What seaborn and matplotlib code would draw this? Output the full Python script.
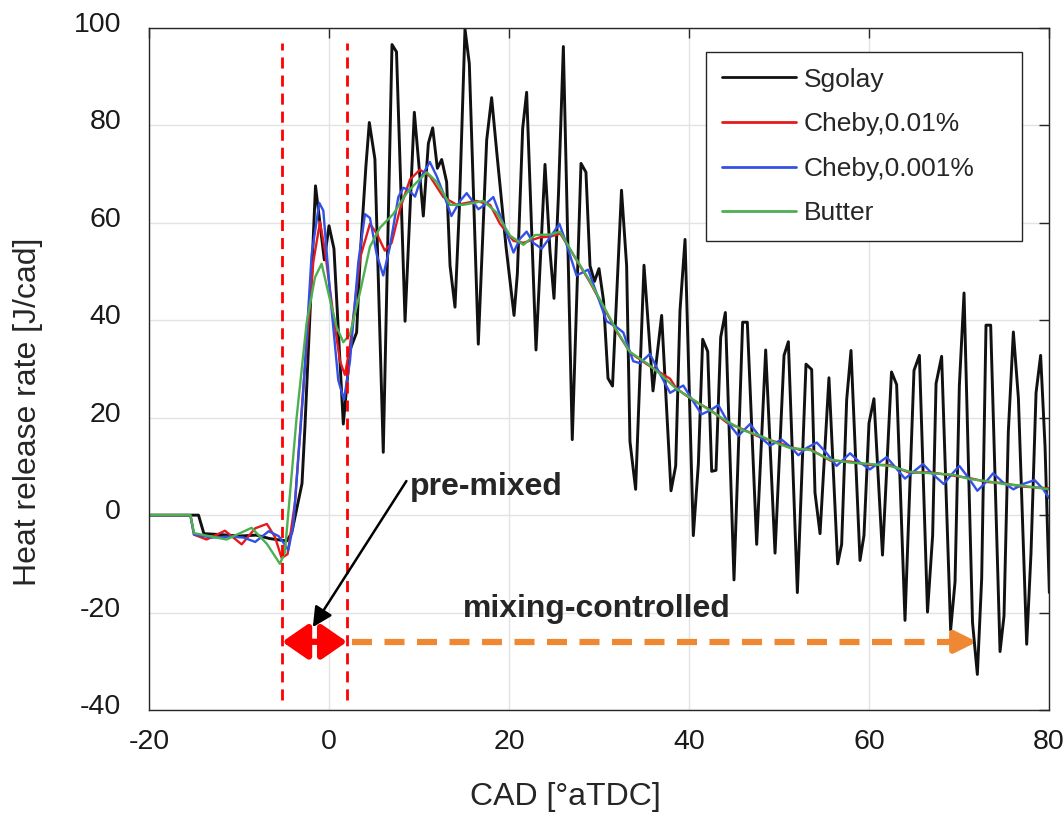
import matplotlib
matplotlib.use("Agg")
import matplotlib.pyplot as plt
import matplotlib.transforms as mtransforms
import seaborn as sns
import pandas as pd

# ---------------- data ----------------
sgolay_x = [-20, -14.5, -13.9, -12, -10, -8.1, -6.6, -4.7, -4.15, -3.0, -2.67, -2.1, -1.5, -1.0, -0.52,
            0.0, 0.55, 1.03, 1.59, 2.33, 3.07, 3.5, 4.1, 4.48, 5.1, 6.03, 7.0, 7.5, 8.45, 9.48, 10.48,
            11.04, 11.52, 12.04, 12.52, 13.07, 13.45, 14.0, 14.48, 15.11, 15.59, 16.59, 17.52, 18.07,
            18.63, 19.67, 20.56, 20.93, 21.52, 21.96, 23.0, 24.0, 24.55, 25.0, 25.5, 26.04, 27.03, 28.0,
            28.55, 29.0, 29.5, 30.0, 30.5, 31.0, 31.5, 32.5, 33.07, 33.44, 34.07, 35.0, 36.0, 36.96,
            38.0, 38.52, 39.0, 39.56, 40.48, 41.04, 41.52, 42.08, 42.52, 43.0, 43.52, 44.04, 45.0,
            45.96, 46.48, 47.52, 48.52, 49.56, 50.56, 51.04, 52.04, 53.0, 53.63, 54.0, 54.56, 55.55,
            56.52, 56.96, 57.52, 58.0, 59.0, 59.44, 60.0, 60.55, 61.5, 62.5, 63.07, 64.0, 65.0, 65.6,
            66.5, 67.07, 67.45, 68.07, 69.07, 69.56, 70.04, 70.56, 71.5, 72.04, 72.52, 73.0, 73.52,
            74.56, 75.0, 75.48, 76.04, 76.6, 77.52, 78.0, 78.56, 79.07, 79.56, 80.04]
sgolay_y = [0, 0, -3.8, -4.0, -4.3, -4.1, -4.8, -5.3, -3.7, 6.5, 18.3, 41.8, 67.6, 59.8, 52.4,
            59.4, 54.7, 37.9, 18.7, 33.9, 37.5, 54.3, 71.6, 80.6, 73.1, 12.9, 96.6, 95.1, 39.8, 82.7, 61.4,
            76.3, 79.5, 71.2, 73.0, 68.4, 51.2, 42.7, 62.9, 99.8, 92.7, 35.1, 77.0, 85.7,
            74.7, 55.1, 41.0, 49.6, 79.4, 86.8, 33.9, 72.0, 54.3, 44.5, 66.0, 96.2, 15.5, 72.2,
            70.4, 51.2, 48.0, 50.6, 44.1, 28.1, 26.5, 66.7, 51.2, 15.1, 5.3, 51.3, 25.5, 41.0,
            5.0, 10.1, 42.0, 56.6, -4.2, 10.5, 36.1, 33.6, 9.0, 9.2, 36.5, 41.6, -13.3,
            39.6, 39.6, -6.0, 33.9, -7.8, 32.8, 35.6, -15.9, 31.0, 29.9, 4.6, -3.8, 28.2,
            -10.0, -6.0, 23.7, 33.8, -9.3, -4.2, 18.9, 23.9, -8.2, 29.4, 26.8, -21.6, 29.7, 32.8,
            -19.9, -4.2, 27.0, 32.6, -23.6, -13.7, 26.6, 45.6, -22.0, -32.7, -13.0, 39.0, 39.0,
            -28.0, -20.7, 17.1, 37.6, 24.0, -26.5, -7.8, 25.1, 32.8, 14.1, -15.9]

cheby1_x = [-20, -15.4, -15.0, -13.6, -11.56, -9.7, -8.2, -6.9, -6.0, -5.26, -4.6, -3.78, -2.86, -1.74,
            -1.0, -0.45, 0.48, 1.22, 1.77, 2.33, 3.44, 4.55, 5.3, 6.2, 6.96, 7.9, 9.0, 10.1, 11.2, 12.7,
            14.2, 16.4, 17.9, 19.0, 20.5, 21.6, 23.4, 24.6, 25.7, 27.2, 29.0, 30.5, 32.0, 33.5, 35.3,
            37.9, 38.6, 40.5, 42.3, 44.2, 46.0, 47.9, 49.7, 52.3, 53.4, 55.7, 57.9, 60.1, 62.3, 64.5,
            66.8, 69.4, 71.2, 73.1, 74.9, 76.8, 80.0]
cheby1_y = [0, 0, -4.0, -5.0, -3.2, -6.0, -2.7, -1.8, -4.5, -8.8, -8.0, 2.6, 26.1, 52.0,
            60.2, 54.3, 41.0, 31.6, 28.8, 34.7, 52.7, 59.8, 57.8, 54.3, 55.9, 62.9, 68.9, 70.9, 69.6, 65.3,
            63.7, 64.5, 63.7, 59.8, 56.3, 55.9, 57.0, 57.2, 57.8, 53.3, 47.8, 42.7, 37.6, 33.3, 31.0,
            28.0, 26.0, 23.5, 21.7, 19.0, 17.6, 16.0, 15.0, 13.4, 13.6, 11.2, 11.0, 10.3, 10.3, 8.7,
            8.8, 8.1, 7.6, 6.8, 6.6, 5.9, 5.5]

cheby2_x = [-20, -15.4, -15.0, -13.0, -11.0, -9.5, -8.2, -6.7, -5.6, -5.08, -4.52, -3.97, -2.86, -1.93,
            -1.08, -0.63, 0.11, 1.03, 1.66, 2.33, 3.26, 4.0, 4.55, 5.3, 6.03, 6.77, 7.7, 8.26, 8.81,
            9.56, 10.3, 11.2, 11.96, 12.7, 13.6, 14.56, 15.3, 16.6, 17.3, 18.26, 19.37, 20.5, 21.2,
            21.96, 22.7, 23.63, 24.55, 25.6, 26.2, 27.5, 28.8, 29.7, 30.85, 31.96, 32.7, 33.8, 34.55,
            35.66, 36.6, 37.9, 38.63, 39.37, 40.48, 41.4, 42.33, 43.26, 44.37, 45.48, 46.78, 47.9,
            49.0, 50.3, 51.4, 52.15, 53.07, 54.2, 55.3, 56.4, 57.9, 59.0, 60.1, 61.96, 64.0, 66.0,
            66.97, 68.3, 69.2, 70.04, 71.04, 72.04, 72.9, 73.8, 74.9, 76.04, 77.15, 78.4, 79.37, 80.0]
cheby2_y = [0, 0, -4.0, -4.6, -4.4, -4.6, -5.5, -3.3, -4.3, -5.6, -7.2, -2.1, 25.3, 53.5,
            64.1, 62.5, 45.7, 27.7, 23.7, 31.6, 52.0, 61.8, 61.0, 53.5, 49.2, 55.1, 65.3, 67.2, 66.8,
            65.4, 69.6, 72.5, 69.6, 66.1, 61.4, 64.5, 66.1, 62.8, 63.7, 65.3, 59.8, 53.9, 56.7,
            58.2, 55.9, 54.7, 57.0, 59.8, 56.7, 49.2, 50.4, 45.7, 39.8, 38.6, 37.5, 31.6, 31.2,
            33.1, 29.6, 25.1, 25.9, 26.6, 23.3, 20.7, 21.5, 22.6, 18.9, 16.3, 18.7, 16.0,
            14.3, 15.5, 13.8, 12.3, 13.8, 14.9, 12.7, 10.1, 12.7, 10.8, 9.4, 11.9, 7.5, 10.5,
            8.6, 6.4, 8.4, 10.1, 7.7, 5.0, 6.6, 8.6, 6.7, 5.3, 6.4, 7.2, 5.3, 3.5]

butter_x = [-20, -15.4, -15.0, -11.4, -8.6, -6.9, -5.45, -4.9, -3.6, -2.49, -1.56, -0.82, -0.08, 0.85,
            1.59, 2.33, 3.44, 4.55, 5.66, 7.14, 8.63, 9.37, 10.85, 11.96, 13.45, 14.93, 17.15, 18.63,
            20.1, 21.6, 22.9, 24.55, 25.66, 27.15, 29.0, 30.5, 31.96, 33.44, 35.3, 36.8, 38.6, 40.48,
            42.33, 44.19, 46.04, 47.9, 49.74, 51.2, 53.44, 55.66, 57.9, 60.1, 62.3, 64.55, 66.8,
            69.37, 71.2, 73.07, 74.9, 76.8, 80.0]
butter_y = [0, 0, -3.7, -5.0, -2.6, -5.9, -10.0, -7.6, 20.0, 39.4, 48.8, 51.6, 45.7, 38.6,
            35.5, 37.1, 45.7, 55.1, 59.0, 61.8, 66.1, 67.6, 70.4, 68.4, 63.7, 63.7, 64.5, 62.1,
            57.4, 55.5, 57.5, 57.6, 58.2, 53.5, 48.0, 42.9, 37.9, 33.5, 31.2, 29.0, 25.9, 23.7,
            21.5, 19.3, 17.4, 16.3, 14.8, 13.8, 13.4, 11.4, 10.8, 10.5, 10.1, 8.9, 8.6,
            8.3, 7.4, 7.0, 6.4, 6.1, 5.3]

series_labels = ["Sgolay", "Cheby,0.01%", "Cheby,0.001%", "Butter"]
series_colors = ["#111111", "#e41a1c", "#3350e6", "#4caf50"]

x_ticks = [-20, 0, 20, 40, 60, 80]
y_ticks = [-40, -20, 0, 20, 40, 60, 80, 100]

phase_bounds = [-5.2, 2.0]          # pre-mixed region boundaries (CAD)
mixing_end = 72.0
arrow_level = -26.0
premixed_label = "pre-mixed"
mixing_label = "mixing-controlled"

# ---------------- styling ----------------
sns.set_style("whitegrid")
plt.rcParams["font.family"] = ["Liberation Sans", "DejaVu Sans"]
plt.rcParams["axes.unicode_minus"] = False

fig = plt.figure(figsize=(10.63, 8.22), dpi=100)
ax = fig.add_axes([149 / 1063, 1 - 710 / 822, 900 / 1063, 682 / 822])

frames = [
    pd.DataFrame({"x": sgolay_x, "y": sgolay_y}),
    pd.DataFrame({"x": cheby1_x, "y": cheby1_y}),
    pd.DataFrame({"x": cheby2_x, "y": cheby2_y}),
    pd.DataFrame({"x": butter_x, "y": butter_y}),
]
widths = [2.1, 1.7, 1.7, 1.7]
for df, lab, col, lw in zip(frames, series_labels, series_colors, widths):
    sns.lineplot(data=df, x="x", y="y", ax=ax, sort=False, estimator=None,
                 color=col, linewidth=lw, label=lab)

ax.set_xlim(-20, 80)
ax.set_ylim(-40, 100)
ax.set_xticks(x_ticks)
ax.set_yticks(y_ticks)
ax.grid(True, color="#e3e3e3", linewidth=1.0)
for s in ax.spines.values():
    s.set_color("#262626")
    s.set_linewidth(1.0)
ax.tick_params(direction="in", length=7, width=1, color="#262626",
               top=True, right=True, labelsize=20.5, labelcolor="#1a1a1a")
ax.tick_params(axis="y", pad=20)
ax.tick_params(axis="x", pad=14)

ax.set_xlabel("CAD [°aTDC]", fontsize=23, color="#262626")
ax.set_ylabel("Heat release rate [J/cad]", fontsize=23, color="#262626")
ax.xaxis.set_label_coords(0.463, -0.105)
ax.yaxis.set_label_coords(-0.118, 0.437)

# shift y tick labels slightly up (as in the reference)
off = mtransforms.ScaledTranslation(0, 6 / 100, fig.dpi_scale_trans)
for lbl in ax.get_yticklabels():
    lbl.set_transform(lbl.get_transform() + off)

# vertical dashed boundaries
for xb in phase_bounds:
    ax.plot([xb, xb], [-38, 97], color="#ff0000", linestyle=(0, (4, 2.5)), linewidth=2.0, zorder=5)

# pre-mixed double arrow
ax.annotate("", xy=(phase_bounds[0], arrow_level), xytext=(phase_bounds[1], arrow_level),
            arrowprops=dict(arrowstyle="<|-|>,head_length=0.55,head_width=0.38", color="#ff0000",
                            lw=4.5, mutation_scale=28, shrinkA=0, shrinkB=0), zorder=6)
# mixing-controlled dashed arrow
ax.plot([phase_bounds[1] + 0.6, mixing_end - 2.5], [arrow_level, arrow_level], color="#ee8833",
        linestyle=(0, (3.2, 2.0)), linewidth=4.5, zorder=6)
ax.annotate("", xy=(mixing_end, arrow_level), xytext=(mixing_end - 3.0, arrow_level),
            arrowprops=dict(arrowstyle="-|>", color="#ee8833", lw=4.5, mutation_scale=32,
                            shrinkA=0, shrinkB=0), zorder=6)

# labels
ax.text(9.0, 5.7, premixed_label, fontsize=23, fontweight="bold", ha="left", va="center", zorder=7)
ax.annotate("", xy=(-1.8, -23.0), xytext=(8.6, 7.0),
            arrowprops=dict(arrowstyle="-|>", color="black", lw=1.8, mutation_scale=30,
                            shrinkA=0, shrinkB=0), zorder=7)
ax.text(29.8, -19.3, mixing_label, fontsize=23, fontweight="bold", ha="center", va="center", zorder=7)

# legend
leg = ax.legend(loc="upper left", bbox_to_anchor=(0.619, 0.678, 0.351, 0.287), mode="expand",
                fontsize=19, frameon=True, fancybox=False, framealpha=1, edgecolor="#262626",
                handlelength=2.8, handletextpad=0.3, labelspacing=0.78, borderpad=0.6,
                borderaxespad=0)
leg.get_frame().set_linewidth(1.0)
for h in leg.get_lines():
    h.set_linewidth(2.0)

fig.savefig("out.png", dpi=100)
